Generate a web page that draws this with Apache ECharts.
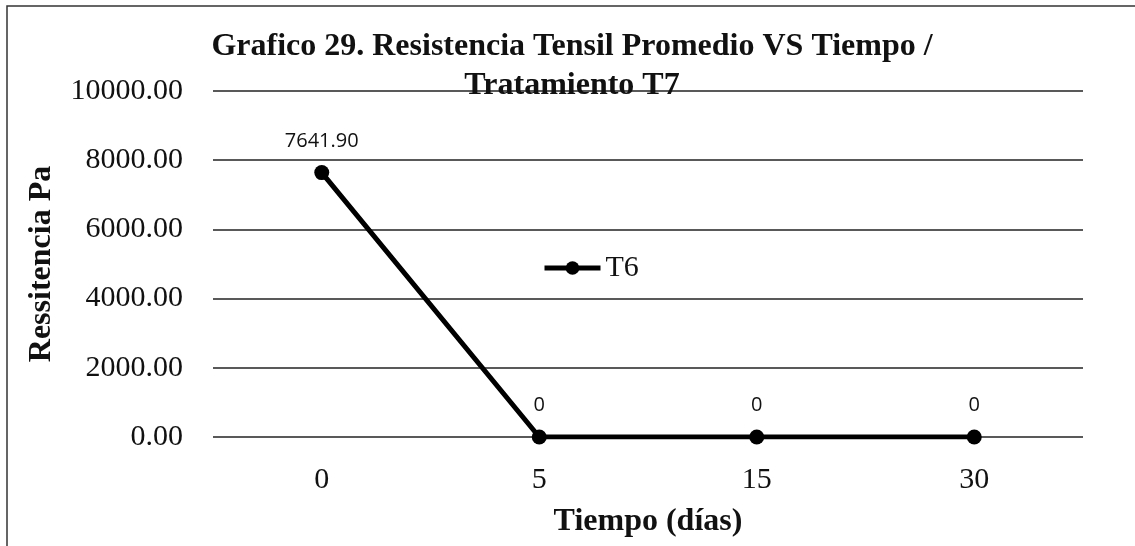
<!DOCTYPE html>
<html>
<head>
<meta charset="utf-8">
<script src="https://cdn.jsdelivr.net/npm/echarts@6/dist/echarts.min.js"></script>
<style>
  html, body { margin: 0; padding: 0; background: #fff; }
  #chart { width: 1135px; height: 546px; }
</style>
</head>
<body>
<div id="chart"></div>
<script>
// datos
var dias = ['0', '5', '15', '30'];
var resistenciaT6 = [7641.90, 0, 0, 0];
var etiquetas = ['7641.90', '0', '0', '0'];
var yTicks = { min: 0, max: 10000, interval: 2000 };

var serif = '"Liberation Serif", "DejaVu Serif", serif';
var sans = '"Open Sans", "Noto Sans", sans-serif';

var chart = echarts.init(document.getElementById('chart'));

var option = {
    animation: false,
    backgroundColor: '#fff',
    title: [
        {
            text: 'Grafico 29. Resistencia Tensil Promedio VS Tiempo /',
            left: 572, top: 31, textAlign: 'center', padding: 0,
            textStyle: { fontFamily: serif, fontSize: 32, fontWeight: 'bold', color: '#111' }
        },
        {
            text: 'Tratamiento T7',
            left: 572, top: 70, textAlign: 'center', padding: 0,
            textStyle: { fontFamily: serif, fontSize: 32, fontWeight: 'bold', color: '#111' }
        }
    ],
    legend: {
        left: 542, top: 253, padding: 0,
        itemWidth: 56, itemHeight: 17, itemGap: 5,
        lineStyle: { width: 5, color: '#000' },
        textStyle: { fontFamily: serif, fontSize: 30, color: '#111' },
        data: ['T6']
    },
    grid: { left: 213, right: 52, top: 91, bottom: 109 },
    xAxis: {
        type: 'category',
        data: dias,
        name: 'Tiempo (días)',
        nameLocation: 'middle',
        nameGap: 69,
        nameTextStyle: { fontFamily: serif, fontSize: 32, fontWeight: 'bold', color: '#111' },
        axisLine: { show: false },
        axisTick: { show: false },
        axisLabel: { margin: 28, fontFamily: serif, fontSize: 30, color: '#111' }
    },
    yAxis: {
        type: 'value',
        min: yTicks.min, max: yTicks.max, interval: yTicks.interval,
        name: 'Ressitencia Pa',
        nameLocation: 'middle',
        nameGap: 155,
        nameTextStyle: { fontFamily: serif, fontSize: 32, fontWeight: 'bold', color: '#111' },
        axisLine: { show: false },
        axisTick: { show: false },
        axisLabel: {
            margin: 30, fontFamily: serif, fontSize: 30, color: '#111',
            formatter: function (v) { return v.toFixed(2); }
        },
        splitLine: { lineStyle: { color: '#222', width: 1.6 } }
    },
    series: [{
        name: 'T6',
        type: 'line',
        data: resistenciaT6,
        symbol: 'circle',
        symbolSize: 15,
        lineStyle: { color: '#000', width: 5 },
        itemStyle: { color: '#000' },
        label: {
            show: true, position: 'top', distance: 14,
            fontFamily: sans, fontSize: 20, color: '#111',
            formatter: function (p) { return etiquetas[p.dataIndex]; }
        }
    }],
    graphic: [{
        type: 'polyline',
        shape: { points: [[7, 546], [7, 6], [1135, 6]] },
        style: { stroke: '#333', lineWidth: 1.5, fill: null }
    }]
};

chart.setOption(option);
</script>
</body>
</html>
